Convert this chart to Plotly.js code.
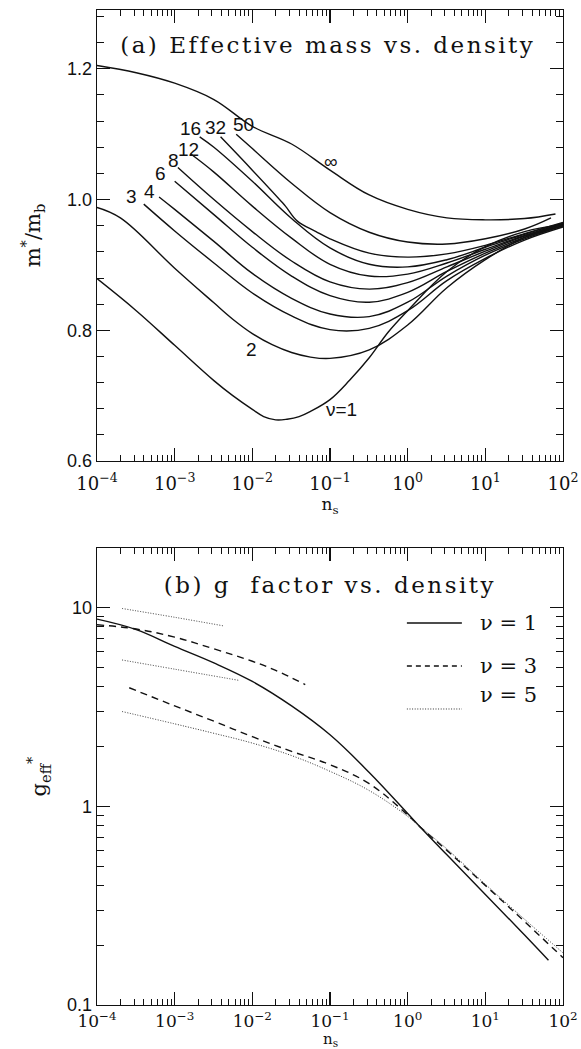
<!DOCTYPE html>
<html>
<head>
<meta charset="utf-8">
<script src="https://cdn.plot.ly/plotly-3.0.1.min.js"></script>
<style>html,body{margin:0;padding:0;background:#fff;}#chart{width:581px;height:1049px;}</style>
</head>
<body>
<div id="chart"></div>
<script>
// ---------- Panel (a): effective mass m*/m_b vs density n_s ----------
const nsNu1 = [1e-4, 3.2e-4, 1e-3, 3.2e-3, 5.6e-3, 1e-2, 1.4e-2, 2e-2, 2.8e-2, 4e-2, 5.6e-2, 0.1, 0.18, 0.32, 0.56, 1, 3.2, 10, 32, 100];
const mNu1  = [0.879, 0.830, 0.777, 0.723, 0.700, 0.679, 0.668, 0.663, 0.664, 0.668, 0.676, 0.694, 0.724, 0.758, 0.797, 0.83, 0.89, 0.928, 0.951, 0.962];
const nsNu2 = [1e-4, 2e-4, 1e-3, 3.2e-3, 5.6e-3, 1e-2, 1.8e-2, 3.2e-2, 5.6e-2, 0.1, 0.32, 1, 3.2, 10, 32, 100];
const mNu2  = [0.988, 0.972, 0.895, 0.842, 0.817, 0.795, 0.778, 0.766, 0.759, 0.757, 0.77, 0.808, 0.865, 0.908, 0.942, 0.96];
const nsNu3 = [4e-4, 1e-3, 3.2e-3, 1e-2, 3.2e-2, 0.1, 0.32, 1, 3.2, 10, 32, 100];
const mNu3  = [0.993, 0.952, 0.903, 0.857, 0.822, 0.801, 0.803, 0.83, 0.876, 0.91, 0.938, 0.958];
const nsNu4 = [6.3e-4, 1e-3, 3.2e-3, 1e-2, 3.2e-2, 0.1, 0.32, 1, 3.2, 10, 32, 100];
const mNu4  = [1.004, 0.985, 0.936, 0.887, 0.849, 0.825, 0.821, 0.843, 0.883, 0.915, 0.94, 0.96];
const nsNu6 = [1e-3, 3.2e-3, 1e-2, 3.2e-2, 0.1, 0.32, 1, 3.2, 10, 32, 100];
const mNu6  = [1.028, 0.977, 0.927, 0.883, 0.853, 0.843, 0.858, 0.89, 0.918, 0.942, 0.96];
const nsNu8 = [1.1e-3, 3.2e-3, 1e-2, 3.2e-2, 0.1, 0.32, 1, 3.2, 10, 32, 100];
const mNu8  = [1.049, 1.0, 0.951, 0.906, 0.874, 0.863, 0.873, 0.897, 0.921, 0.944, 0.962];
const nsNu12 = [1.6e-3, 3.2e-3, 1e-2, 3.2e-2, 0.1, 0.32, 1, 3.2, 10, 32, 100];
const mNu12  = [1.07, 1.042, 0.99, 0.941, 0.901, 0.883, 0.886, 0.903, 0.924, 0.945, 0.963];
const nsNu16 = [2.1e-3, 3.2e-3, 1e-2, 3.2e-2, 0.1, 0.32, 1, 3.2, 10, 32, 100];
const mNu16  = [1.096, 1.08, 1.028, 0.971, 0.926, 0.901, 0.897, 0.908, 0.927, 0.947, 0.964];
const nsNu32 = [3.9e-3, 1e-2, 2.45e-2, 2.75e-2, 3.8e-2, 6.6e-2, 0.1, 0.32, 1, 3.2, 10, 32, 100];
const mNu32  = [1.096, 1.045, 0.995, 0.988, 0.967, 0.951, 0.94, 0.918, 0.912, 0.917, 0.93, 0.948, 0.965];
const nsNu50 = [6.2e-3, 1e-2, 3.2e-2, 0.1, 0.32, 1, 3.2, 10, 32, 70];
const mNu50  = [1.10, 1.078, 1.025, 0.98, 0.95, 0.935, 0.932, 0.94, 0.955, 0.972];
const nsInf = [1e-4, 3.2e-4, 1e-3, 3.2e-3, 1e-2, 3.2e-2, 0.1, 0.32, 1, 3.2, 10, 32, 80];
const mInf  = [1.205, 1.194, 1.178, 1.153, 1.112, 1.085, 1.045, 1.007, 0.985, 0.972, 0.969, 0.971, 0.978];

// curve labels of panel (a)
const labelText = ['3', '4', '6', '8', '12', '16', '32', '50', '\u221e', '2', '\u03bd=1'];
const labelNs   = [2.8e-4, 4.7e-4, 6.6e-4, 9.6e-4, 1.5e-3, 1.6e-3, 3.4e-3, 7.6e-3, 0.104, 9.9e-3, 0.141];
const labelM    = [1.005, 1.013, 1.040, 1.060, 1.077, 1.108, 1.110, 1.115, 1.059, 0.770, 0.679];

// ---------- Panel (b): g factor vs density ----------
const nsG1  = [1e-4, 3.2e-4, 1e-3, 3.2e-3, 1e-2, 3.2e-2, 0.1, 0.32, 1, 1.5, 3.2, 10, 32, 65];
const gG1   = [8.75, 7.75, 6.38, 5.27, 4.25, 3.2, 2.29, 1.48, 0.92, 0.776, 0.57, 0.36, 0.225, 0.168];
const nsG3a = [1e-4, 3.2e-4, 1e-3, 3.2e-3, 1e-2, 2e-2, 4.8e-2];
const gG3a  = [8.2, 7.8, 7.1, 6.2, 5.37, 4.83, 4.1];
const nsG3b = [2.6e-4, 1e-3, 3.2e-3, 1e-2, 3.2e-2, 0.1, 0.32, 1, 1.5, 3.2, 10, 32, 100];
const gG3b  = [3.95, 3.2, 2.68, 2.24, 1.89, 1.62, 1.3, 0.905, 0.778, 0.6, 0.4, 0.263, 0.173];
const nsG5a = [2.1e-4, 1e-3, 4.2e-3];
const gG5a  = [9.9, 8.94, 8.1];
const nsG5b = [2.1e-4, 1e-3, 6.8e-3];
const gG5b  = [5.45, 4.9, 4.3];
const nsG5c = [2.1e-4, 1e-3, 3.2e-3, 1e-2, 3.2e-2, 0.1, 0.32, 1, 1.5, 3.2, 10, 32, 100];
const gG5c  = [3.0, 2.6, 2.33, 2.08, 1.8, 1.5, 1.2, 0.89, 0.78, 0.61, 0.405, 0.27, 0.183];

const legendNames = ['\u03bd = 1', '\u03bd = 3', '\u03bd = 5'];

// tick labels
const decadeVals = [1e-4, 1e-3, 1e-2, 1e-1, 1, 10, 100];
const decadeText = ['10<sup>\u22124</sup>', '10<sup>\u22123</sup>', '10<sup>\u22122</sup>', '10<sup>\u22121</sup>', '10<sup>0</sup>', '10<sup>1</sup>', '10<sup>2</sup>'];
const mTickVals = [0.6, 0.8, 1.0, 1.2];
const mTickText = ['0.6', '0.8', '1.0', '1.2'];
const gTickVals = [0.1, 1, 10];
const gTickText = ['0.1', '1', '10'];

// ---------- build ----------
function minorLog(lo, hi) {
  const v = [];
  for (let e = lo; e < hi; e++) for (let d = 2; d <= 9; d++) v.push(d * Math.pow(10, e));
  return v;
}
const blk = '#111';
const lw = 1.4;
function curve(x, y, xa, ya, dash, width, color) {
  return {x: x, y: y, xaxis: xa, yaxis: ya, type: 'scatter', mode: 'lines',
    line: {color: color || blk, width: width || lw, dash: dash || 'solid', shape: 'spline', smoothing: 1.1},
    hoverinfo: 'skip', showlegend: false};
}
const dotDash = '1px,1.6px';
const dotCol = '#333';
const traces = [
  curve(nsNu1, mNu1, 'x', 'y'), curve(nsNu2, mNu2, 'x', 'y'), curve(nsNu3, mNu3, 'x', 'y'),
  curve(nsNu4, mNu4, 'x', 'y'), curve(nsNu6, mNu6, 'x', 'y'), curve(nsNu8, mNu8, 'x', 'y'),
  curve(nsNu12, mNu12, 'x', 'y'), curve(nsNu16, mNu16, 'x', 'y'), curve(nsNu32, mNu32, 'x', 'y'),
  curve(nsNu50, mNu50, 'x', 'y'), curve(nsInf, mInf, 'x', 'y'),
  curve(nsG1, gG1, 'x2', 'y2'),
  curve(nsG3a, gG3a, 'x2', 'y2', '7px,5px'), curve(nsG3b, gG3b, 'x2', 'y2', '7px,5px'),
  curve(nsG5a, gG5a, 'x2', 'y2', dotDash, 1, dotCol), curve(nsG5b, gG5b, 'x2', 'y2', dotDash, 1, dotCol),
  curve(nsG5c, gG5c, 'x2', 'y2', dotDash, 1, dotCol)
];

const tickFont = {family: 'DejaVu Serif, serif', size: 18, color: blk};
const tickFont2 = {family: 'DejaVu Serif, serif', size: 17, color: blk};
const yTickFont = {family: 'Liberation Sans, Arial, sans-serif', size: 18, color: blk};
const titleFont = {family: 'DejaVu Serif, serif', size: 17, color: blk};
function axisBase() {
  return {showline: true, linecolor: blk, linewidth: 1.4, mirror: 'allticks', ticks: 'inside',
    ticklen: 13, tickwidth: 1.2, tickcolor: blk, showgrid: false, zeroline: false, fixedrange: true};
}
const xa1 = Object.assign(axisBase(), {type: 'log', range: [-4, 2], domain: [0, 1], anchor: 'y',
  tickmode: 'array', tickvals: decadeVals, ticktext: decadeText, tickfont: tickFont, ticklabelstandoff: 6,
  minor: {ticks: 'inside', ticklen: 6, tickwidth: 1, tickcolor: blk, tickvals: minorLog(-4, 2)},
  title: {text: 'n<sub>s</sub>', font: titleFont, standoff: 1}});
const ya1 = Object.assign(axisBase(), {range: [0.6, 1.29], domain: [0.5467, 1], anchor: 'x',
  tickmode: 'array', tickvals: mTickVals, ticktext: mTickText, tickfont: yTickFont,
  minor: {ticks: 'inside', ticklen: 7, tickwidth: 1, tickcolor: blk, dtick: 0.04, tick0: 0.6},
  title: {text: 'm<sup>*</sup>/m<sub>b</sub>', font: {family: 'DejaVu Serif, serif', size: 21, color: blk}, standoff: 20}});
const xa2 = Object.assign(axisBase(), {type: 'log', range: [-4, 2], domain: [0, 1], anchor: 'y2',
  tickmode: 'array', tickvals: decadeVals, ticktext: decadeText, tickfont: tickFont2, ticklabelstandoff: 0,
  minor: {ticks: 'inside', ticklen: 6, tickwidth: 1, tickcolor: blk, tickvals: minorLog(-4, 2)}});
const ya2 = Object.assign(axisBase(), {type: 'log', range: [-1, 1.3], domain: [0, 0.4593], anchor: 'x2',
  tickmode: 'array', tickvals: gTickVals, ticktext: gTickText, tickfont: yTickFont,
  minor: {ticks: 'inside', ticklen: 7, tickwidth: 1, tickcolor: blk, tickvals: minorLog(-1, 2).filter(v => v < 20)},
  title: {text: 'g<sub>eff</sub><sup>*</sup>', font: {family: 'DejaVu Serif, serif', size: 21, color: blk}, standoff: 14}});

const annotations = [];
for (let i = 0; i < labelText.length; i++) {
  annotations.push({x: Math.log10(labelNs[i]), y: labelM[i], xref: 'x', yref: 'y', text: labelText[i],
    showarrow: false, font: {family: 'Liberation Sans, Arial, sans-serif', size: 19, color: blk}});
}
annotations.push({x: 0.496, y: 0.9648, xref: 'paper', yref: 'paper', yanchor: 'middle', text: '(a) Effective mass vs. density',
  showarrow: false, font: {family: 'DejaVu Serif, serif', size: 23, color: blk}});
annotations.push({x: 0.5, y: 0.4221, xref: 'paper', yref: 'paper', yanchor: 'middle', text: '(b) g&#160;&#160;factor vs. density',
  showarrow: false, font: {family: 'DejaVu Serif, serif', size: 23, color: blk}});
// x-axis title of panel (b), placed under its tick labels
annotations.push({x: 0.5, y: -0.0345, xref: 'paper', yref: 'paper', yanchor: 'middle', text: 'n<sub>s</sub>',
  showarrow: false, font: {family: 'DejaVu Serif, serif', size: 15, color: blk}});

// legend (panel b) drawn as layout decoration
const legY = [0.3839, 0.3407, 0.2975];
const legDash = ['solid', '5px,4px', dotDash];
const shapes = [];
for (let i = 0; i < 3; i++) {
  shapes.push({type: 'line', xref: 'paper', yref: 'paper', x0: 0.665, x1: 0.783, y0: legY[i], y1: legY[i],
    line: {color: i === 2 ? dotCol : blk, width: i === 2 ? 1 : 1.3, dash: legDash[i]}});
  annotations.push({x: 0.818, y: legY[i], xref: 'paper', yref: 'paper', xanchor: 'left', text: legendNames[i],
    showarrow: false, font: {family: 'DejaVu Serif, serif', size: 21, color: blk}});
}

const layout = {
  width: 581, height: 1049, margin: {l: 97, r: 18, t: 10, b: 44},
  paper_bgcolor: '#fff', plot_bgcolor: '#fff', showlegend: false,
  xaxis: xa1, yaxis: ya1, xaxis2: xa2, yaxis2: ya2,
  annotations: annotations, shapes: shapes
};
Plotly.newPlot('chart', traces, layout, {staticPlot: true, displayModeBar: false}).then(function (gd) {
  gd.querySelectorAll('.annotation-text').forEach(function (t) {
    if (t.textContent.charAt(0) === '(') t.style.letterSpacing = '2.5px';
  });
});
</script>
</body>
</html>
